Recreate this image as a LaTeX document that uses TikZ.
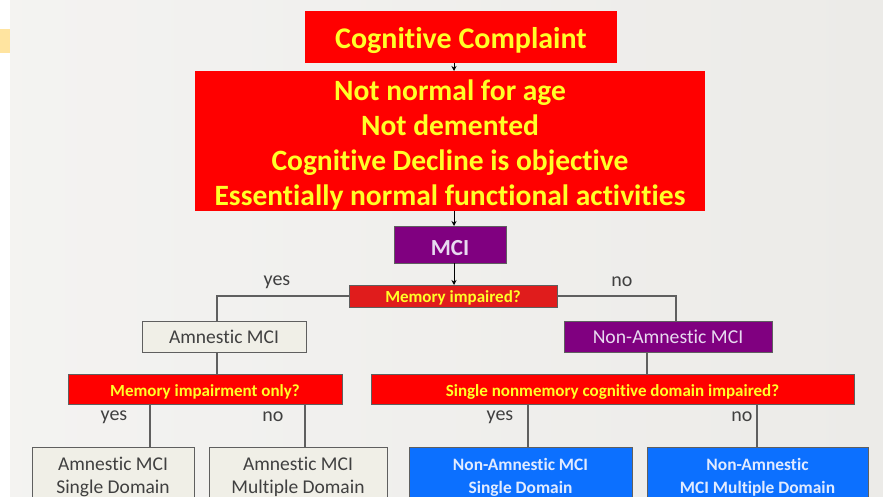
\documentclass[tikz,border=0pt]{standalone}
\usepackage{fontspec}
\setmainfont{Carlito}[Ligatures=NoCommon]
\usetikzlibrary{arrows.meta,calc}
\definecolor{bgc}{RGB}{236,235,232}
\definecolor{redc}{RGB}{255,0,0}
\definecolor{darkred}{RGB}{224,28,28}
\definecolor{yel}{RGB}{255,255,40}
\definecolor{purp}{RGB}{128,0,128}
\definecolor{lav}{RGB}{232,218,240}
\definecolor{beige}{RGB}{240,239,231}
\definecolor{bluec}{RGB}{12,112,255}
\definecolor{lightblue}{RGB}{225,235,255}
\definecolor{linec}{RGB}{95,95,95}
\definecolor{txtgray}{RGB}{64,64,64}
\definecolor{tabc}{RGB}{255,228,160}
\newcommand\lowr[1]{\rule{0pt}{#1}}
\tikzset{
  box/.style={draw=none,inner sep=0pt,outer sep=0pt,align=center},
  redbox/.style={box,fill=redc,text=yel,font=\bfseries},
  qbox/.style={box,fill=redc,draw=linec,line width=0.8pt,text=yel,font=\bfseries\fontsize{17}{19}\selectfont},
  purpbox/.style={box,fill=purp,draw=linec,line width=0.8pt,text=lav,font=\fontsize{19.7}{22}\selectfont},
  beigebox/.style={box,fill=beige,draw=linec,line width=0.8pt,text=txtgray,font=\fontsize{19.5}{23}\selectfont},
  bluebox/.style={box,fill=bluec,draw=linec,line width=0.8pt,text=lightblue,font=\bfseries\fontsize{17.4}{23}\selectfont},
  conn/.style={draw=linec,line width=1.4pt},
  arr/.style={draw=black,line width=0.8pt,-{Stealth[length=5pt,width=5pt]}},
  lbl/.style={text=txtgray,font=\fontsize{20}{22}\selectfont,inner sep=0pt}
}
\begin{document}
\begin{tikzpicture}[x=1pt,y=-1pt]
\useasboundingbox (0,0) rectangle (883,497);
\clip (0,0) rectangle (883,497);
\fill[white] (0,0) rectangle (883,497);
\shade[left color=bgc!60!white,right color=bgc] (10,0) rectangle (883,497);
\fill[tabc] (0,29) rectangle (10,53);

% top boxes
\node[redbox,minimum width=312pt,minimum height=52pt,font=\bfseries\fontsize{30}{34}\selectfont] (cc) at (461,37) {\lowr{28.5pt}Cognitive Complaint};
\node[redbox,minimum width=510pt,minimum height=140pt,font=\bfseries\fontsize{29.5}{35}\selectfont] (crit) at (450,141)
  {\lowr{28pt}Not normal for age\\Not demented\\Cognitive Decline is objective\\Essentially normal functional activities};
\node[purpbox,minimum width=112pt,minimum height=37pt,font=\bfseries\fontsize{23}{26}\selectfont] (mci) at (450,244.5) {\lowr{23pt}MCI};
\node[qbox,fill=darkred,minimum width=208pt,minimum height=22pt] (mem) at (453,296) {\lowr{16.5pt}Memory impaired?};

% second level
\node[beigebox,minimum width=164pt,minimum height=31pt] (amn) at (224,336.5) {Amnestic MCI};
\node[purpbox,minimum width=208pt,minimum height=31pt] (namn) at (668,336.5) {Non-Amnestic MCI};

% questions
\node[qbox,minimum width=274pt,minimum height=30pt] (only) at (205,389) {\lowr{17pt}Memory impairment only?};
\node[qbox,minimum width=483pt,minimum height=30pt] (single) at (612.5,389) {\lowr{17pt}Single nonmemory cognitive domain impaired?};

% bottom boxes
\node[beigebox,minimum width=162pt,minimum height=55pt] (asd) at (113,474.5) {\lowr{19pt}Amnestic MCI\\Single Domain};
\node[beigebox,minimum width=178pt,minimum height=55pt] (amd) at (298,474.5) {\lowr{19pt}Amnestic MCI\\Multiple Domain};
\node[bluebox,minimum width=223pt,minimum height=55pt] (nsd) at (520.5,474.5) {\lowr{17pt}Non-Amnestic MCI\\Single Domain};
\node[bluebox,minimum width=221pt,minimum height=55pt] (nmd) at (757.5,474.5) {\lowr{17pt}Non-Amnestic\\MCI Multiple Domain};

% arrows on the main axis
\coordinate (ax) at (454,0);
\draw[arr] (cc.south -| ax) -- (crit.north -| ax);
\draw[arr] (crit.south -| ax) -- (mci.north -| ax);
\draw[arr] (mci.south -| ax) -- (mem.north -| ax);

% branches
\coordinate (yesx) at (217,0);
\coordinate (nox) at (676,0);
\draw[conn] (mem.west) -- (mem.west -| yesx) -- (amn.north -| yesx);
\draw[conn] (mem.east) -- (mem.east -| nox) -- (namn.north -| nox);
\coordinate (amx) at (217,0);
\coordinate (nmx) at (647,0);
\draw[conn] (amn.south -| amx) -- (only.north -| amx);
\draw[conn] (namn.south -| nmx) -- (single.north -| nmx);
\coordinate (x1) at (150,0);
\coordinate (x2) at (305,0);
\coordinate (x3) at (528,0);
\coordinate (x4) at (757,0);
\draw[conn] (only.south -| x1) -- (asd.north -| x1);
\draw[conn] (only.south -| x2) -- (amd.north -| x2);
\draw[conn] (single.south -| x3) -- (nsd.north -| x3);
\draw[conn] (single.south -| x4) -- (nmd.north -| x4);

% labels
\node[lbl] (l1) at (277,282) {yes};
\node[lbl] (l2) at (622,282) {no};
\node[lbl] (l3) at (114,417) {yes};
\node[lbl] (l4) at (273,417) {no};
\node[lbl] (l5) at (500,417) {yes};
\node[lbl] (l6) at (742,417) {no};
\end{tikzpicture}
\end{document}
